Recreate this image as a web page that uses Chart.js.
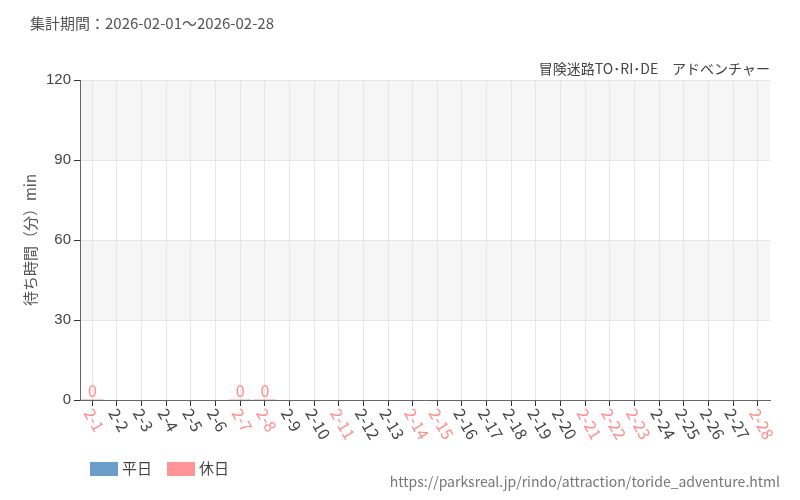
<!DOCTYPE html>
<html><head><meta charset="utf-8">
<script src="https://cdn.jsdelivr.net/npm/chart.js@4"></script>
<style>body{margin:0;background:#fff;font-family:"Noto Sans CJK JP","Noto Sans",sans-serif}
#t{position:absolute;left:30px;top:12px;font-size:15px;color:#555}
#n{position:absolute;right:30px;top:58px;font-size:14px;color:#444}
#u{position:absolute;right:20px;top:471px;font-size:14px;color:#777}
#lg{position:absolute;left:90px;top:457px;font-size:15px;color:#444}
#lg span.b{display:inline-block;width:28px;height:14px;vertical-align:-2px;margin-right:4px}
#w{position:absolute;left:0;top:0;width:800px;height:500px}</style></head>
<body><div id="w"><canvas id="c" width="800" height="500"></canvas></div>
<div id="t">集計期間：2026-02-01～2026-02-28</div>
<div id="n">冒険迷路TO･RI･DE　アドベンチャー</div>
<div id="lg"><span class="b" style="background:#6a9ec8"></span>平日　<span class="b" style="background:#ff9494"></span>休日</div>
<div id="u">https://parksreal.jp/rindo/attraction/toride_adventure.html</div>
<script>
const labels=["2-1","2-2","2-3","2-4","2-5","2-6","2-7","2-8","2-9","2-10","2-11","2-12","2-13","2-14","2-15","2-16","2-17","2-18","2-19","2-20","2-21","2-22","2-23","2-24","2-25","2-26","2-27","2-28"];
const holidays=["2-1","2-7","2-8","2-11","2-14","2-15","2-21","2-22","2-23","2-28"];
const weekday=labels.map(()=>null);
const holiday=[0,null,null,null,null,null,0,0,null,null,null,null,null,null,null,null,null,null,null,null,null,null,null,null,null,null,null,null];
const yTicks=[0,30,60,90,120];
const bands={id:'bands',beforeDraw(ch){const {ctx,chartArea:a,scales:{y}}=ch;ctx.save();ctx.fillStyle='#f6f6f6';
[[30,60],[90,120]].forEach(([l,h])=>{ctx.fillRect(a.left,y.getPixelForValue(h),a.right-a.left,y.getPixelForValue(l)-y.getPixelForValue(h));});ctx.restore();}};
const vals={id:'vals',afterDatasetsDraw(ch){const ctx=ch.ctx;ctx.save();ctx.font='16px "Noto Sans CJK JP"';ctx.fillStyle='#ff8c8c';ctx.textAlign='center';ctx.textBaseline='bottom';
const m=ch.getDatasetMeta(1);m.data.forEach((b,i)=>{if(holiday[i]!==null)ctx.fillText(String(holiday[i]),b.x,b.y);});
const x=ch.scales.x,yb=ch.chartArea.bottom;ctx.font='16px "Noto Sans CJK JP"';ctx.textAlign='left';ctx.textBaseline='middle';
labels.forEach((l,i)=>{const px=x.getPixelForValue(i);ctx.save();ctx.translate(px-4,yb+10);ctx.rotate(Math.PI/3);ctx.fillStyle=holidays.includes(l)?'#ff8c8c':'#444';ctx.fillText(l,0,0);ctx.restore();});
ctx.restore();}};
new Chart(document.getElementById('c'),{type:'bar',
data:{labels,datasets:[{label:'平日',data:weekday,backgroundColor:'#6a9ec8',barPercentage:0.9,categoryPercentage:1,minBarLength:1},
{label:'休日',data:holiday,backgroundColor:'#ff9494',barPercentage:0.9,categoryPercentage:1,grouped:false,minBarLength:1}]},
options:{responsive:false,animation:false,
layout:{padding:{left:17,right:30,top:80,bottom:94}},
plugins:{legend:{display:false},tooltip:{enabled:false}},
scales:{x:{offset:true,grid:{offset:false,color:'#e6e6e6',tickColor:'#333',tickLength:6},border:{color:'#666'},
ticks:{display:false}},
y:{min:0,max:120,afterBuildTicks:s=>{s.ticks=yTicks.map(v=>({value:v}));},grid:{color:'#e6e6e6',tickLength:6,tickColor:'#333'},border:{color:'#666'},
ticks:{font:{size:15},color:'#444'},title:{display:true,text:'待ち時間（分）min',font:{size:15,family:'"Noto Sans CJK JP"'},color:'#555'}}}},
plugins:[bands,vals]});
</script></body></html>
